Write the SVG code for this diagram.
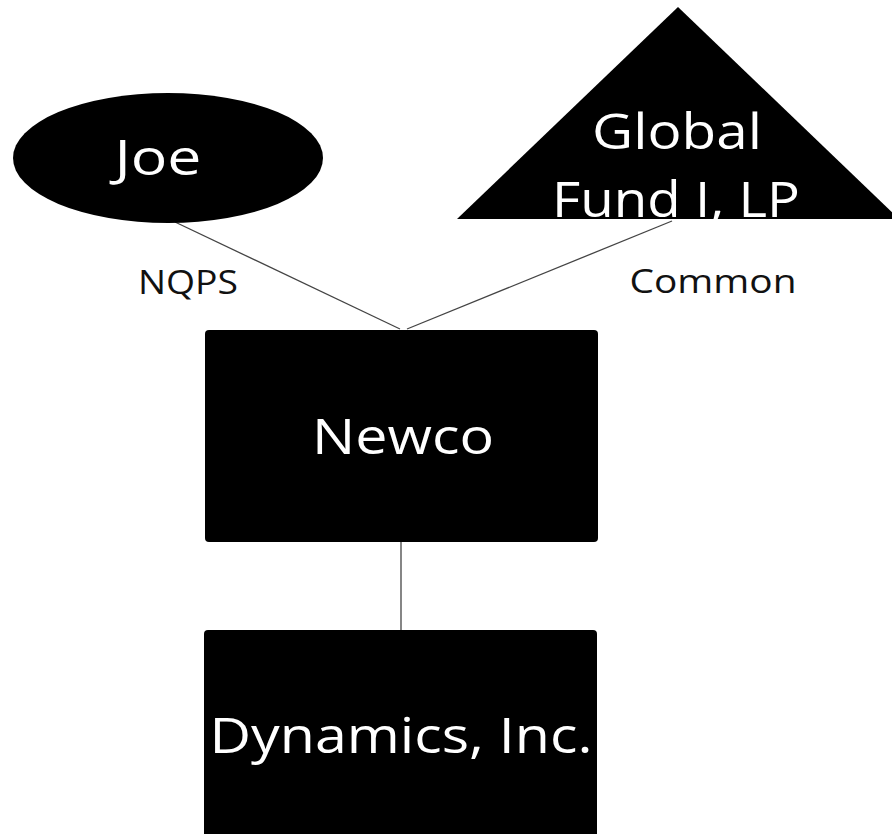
<svg xmlns="http://www.w3.org/2000/svg" width="892" height="834" viewBox="0 0 892 834">
<style>
.node{fill:#000}
.lbl{fill:#fff;font-family:"Open Sans","DejaVu Sans",sans-serif;text-anchor:middle}
.edge{stroke:#444;stroke-width:1.3;fill:none}
.elbl{fill:#111;font-family:"Open Sans","DejaVu Sans",sans-serif;font-size:32px;text-anchor:middle}
</style>
<rect width="892" height="834" fill="#fff"/>
<g id="connectors">
<line class="edge" x1="175" y1="222" x2="400" y2="329"/>
<line class="edge" x1="672" y1="221" x2="407" y2="329"/>
<line class="edge" x1="401" y1="541" x2="401" y2="631" stroke="#000" stroke-width="2"/>
<text class="elbl" x="188" y="294" textLength="100" lengthAdjust="spacingAndGlyphs">NQPS</text>
<text class="elbl" x="713" y="293" textLength="167" lengthAdjust="spacingAndGlyphs">Common</text>
</g>
<g id="joe">
<ellipse class="node" cx="168" cy="158" rx="155" ry="65"/>
<text class="lbl" x="158" y="175" font-size="49" textLength="87" lengthAdjust="spacingAndGlyphs">Joe</text>
</g>
<g id="global-fund">
<polygon class="node" points="678,7 457,219 899,219"/>
<text class="lbl" x="677" y="149" font-size="50" textLength="170" lengthAdjust="spacingAndGlyphs">Global</text>
<text class="lbl" x="676" y="217" font-size="50" textLength="248" lengthAdjust="spacingAndGlyphs">Fund I, LP</text>
</g>
<g id="newco">
<rect class="node" x="205" y="330" width="393" height="212" rx="4"/>
<text class="lbl" x="403" y="454" font-size="49" textLength="182" lengthAdjust="spacingAndGlyphs">Newco</text>
</g>
<g id="dynamics">
<rect class="node" x="204" y="630" width="393" height="214" rx="4"/>
<text class="lbl" x="401" y="753" font-size="49" textLength="383" lengthAdjust="spacingAndGlyphs">Dynamics, Inc.</text>
</g>
</svg>
